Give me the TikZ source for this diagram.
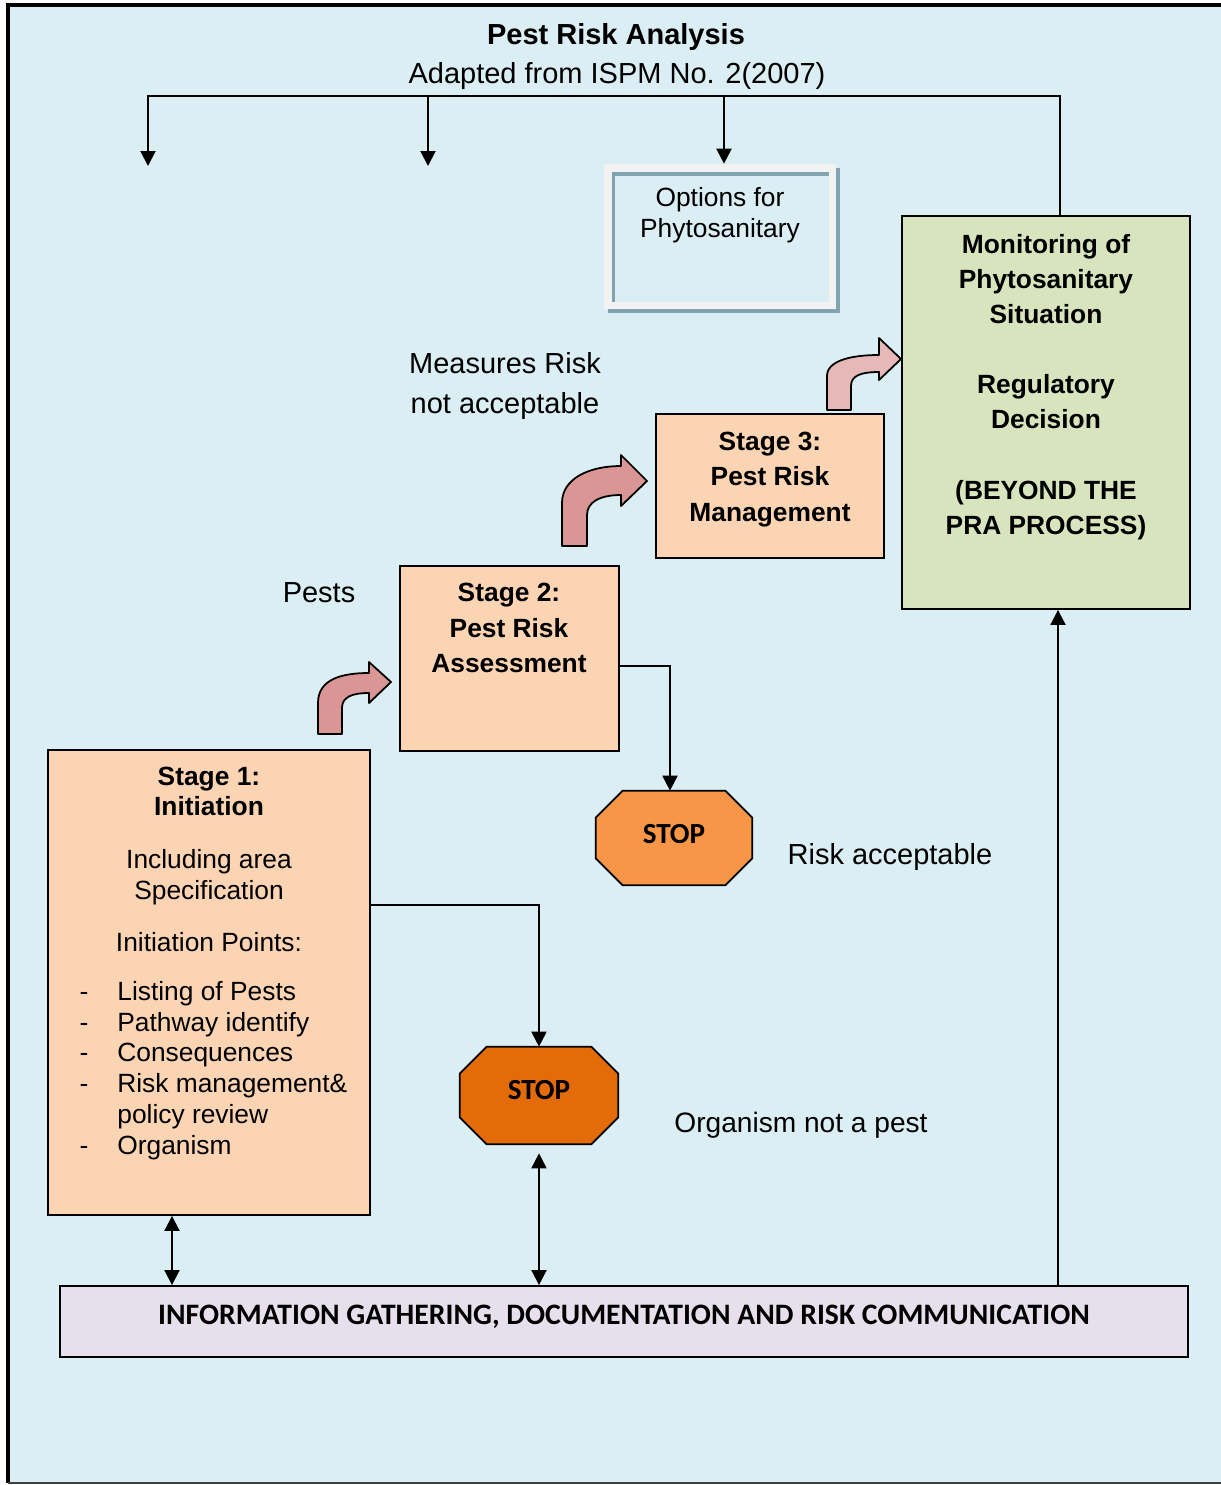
\documentclass[tikz,border=0pt]{standalone}
\usepackage{fontspec}
\setmainfont{Liberation Sans}
\newfontfamily\calib{Carlito}
\usetikzlibrary{arrows.meta,calc}
\definecolor{bgc}{HTML}{DAEEF3}
\definecolor{peach}{HTML}{FBD4B4}
\definecolor{greenc}{HTML}{D7E4BD}
\definecolor{lavc}{HTML}{E5E0EC}
\definecolor{stopa}{HTML}{F79646}
\definecolor{stopb}{HTML}{E36C09}
\definecolor{pinka}{HTML}{D99694}
\definecolor{pinkb}{HTML}{E6B9B8}
\definecolor{shc}{HTML}{7FA4B0}
\definecolor{optc}{HTML}{F2F2F2}
\newcommand\octpath[3]{%
 \draw[line width=1pt, fill=#3] ([xshift=#2]#1.north west) -- ([xshift=-#2]#1.north east) -- ([yshift=-#2]#1.north east) -- ([yshift=#2]#1.south east) -- ([xshift=-#2]#1.south east) -- ([xshift=#2]#1.south west) -- ([yshift=#2]#1.south west) -- ([yshift=-#2]#1.north west) -- cycle;}
\begin{document}
\begin{tikzpicture}[x=0.02cm,y=-0.02cm,
 box/.style={draw=black, line width=1.1pt, inner sep=0pt},
 conn/.style={line width=1.1pt},
 arr/.style={conn, -{Triangle[length=0.3cm,width=0.3cm]}},
 darr/.style={conn, {Triangle[length=0.3cm,width=0.3cm]}-{Triangle[length=0.3cm,width=0.3cm]}},
 lbl/.style={font=\fontsize{16.5}{20}\selectfont, inner sep=0pt, text height=11.8pt, text depth=0pt},
 lbl15/.style={font=\fontsize{15}{18}\selectfont, inner sep=0pt, text height=10.7pt, text depth=0pt},
 lblm/.style={font=\fontsize{16.5}{22.5}\selectfont, inner sep=0pt, align=center},
 bt/.style={font=\fontsize{15}{20}\selectfont\bfseries, align=center, inner sep=0pt},
 bt1/.style={font=\fontsize{15}{17}\selectfont\bfseries, align=center, inner sep=0pt},
 rt/.style={font=\fontsize{15}{17.6}\selectfont, align=center, inner sep=0pt},
 li/.style={font=\fontsize{15}{17.5}\selectfont, inner sep=0pt, anchor=base west},
 dsh/.style={font=\fontsize{15}{17.5}\selectfont, inner sep=0pt, anchor=base},
 stopt/.style={font=\calib\bfseries\fontsize{16.6}{20}\selectfont, inner sep=0pt},
 bart/.style={font=\calib\bfseries\fontsize{16.9}{20}\selectfont, inner sep=0pt},
 bent/.style={draw=black, line width=1pt, line join=round}
]
\useasboundingbox (0,0) rectangle (1221,1485);
\fill[white] (0,0) rectangle (1221,1485);
\fill[bgc] (8,5) rectangle (1221,1483);
\draw[line width=2.2pt] (8,1483) -- (8,5) -- (1221,5);
\draw[line width=0.8pt, black!75] (8,1483) -- (1221,1483);

% title
\node[lbl, font=\fontsize{16.5}{20}\selectfont\bfseries] (title) at (616,34) {Pest Risk Analysis};
\node[lbl] (subtitle) at (617,73) {Adapted from ISPM No. 2(2007)};

% options box
\fill[shc] (608,168) rectangle (840,313);
\node[fill=optc, minimum width=4.64cm, minimum height=2.9cm, inner sep=0pt] (opt) at (720,236.5) {};
\fill[shc] (612,172) rectangle (829,302);
\fill[bgc] (615,176) rectangle (829,302);
\node[rt] (optt) at (720,215) {Options for\\Phytosanitary};

% monitoring
\node[box, fill=greenc, minimum width=5.76cm, minimum height=7.86cm] (mon) at (1046,412.5) {};
\node[bt] (mont) at (1046,387) {Monitoring of\\Phytosanitary\\Situation\\[20pt]Regulatory\\Decision\\[20pt](BEYOND THE\\PRA PROCESS)};

% stage 3
\node[box, fill=peach, minimum width=4.56cm, minimum height=2.88cm] (st3) at (770,486) {};
\node[bt] (st3t) at (770,479.5) {Stage 3:\\Pest Risk\\Management};

% stage 2
\node[box, fill=peach, minimum width=4.38cm, minimum height=3.7cm] (st2) at (509.5,658.5) {};
\node[bt] (st2t) at (509,628) {Stage 2:\\Pest Risk\\Assessment};

% stage 1
\node[box, fill=peach, minimum width=6.44cm, minimum height=9.3cm] (st1) at (209,982.5) {};
\node[bt1] (st1h) at (209,791) {Stage 1:\\Initiation};
\node[rt] (st1a) at (209,877) {Including area\\Specification};
\node[lbl15] (st1p) at (209,942) {Initiation Points:};
\foreach \t/\yy [count=\i] in {Listing of Pests/1000.5, Pathway identify/1031.3, Consequences/1061.5, Risk management\&/1092.3, policy review/1123.1, Organism/1154.3}
  \node[li] (li\i) at (117,\yy) {\t};
\foreach \yy [count=\i] in {1000.5,1031.3,1061.5,1092.3,1154.3}
  \node[dsh] (dash\i) at (84,\yy) {-};

% bent arrows
\path[bent, fill=pinka] (318,734) -- (318,703) .. controls (318,680) and (340,673) .. (369,673) -- (369,662) -- (391,682) -- (369,703) -- (369,693) .. controls (352,693) and (342,697) .. (342,708) -- (342,734) -- cycle;
\path[bent, fill=pinka] (562,546) -- (562,503) .. controls (562,478) and (590,466) .. (621,466) -- (621,455) -- (647,481) -- (621,506) -- (621,495) .. controls (600,495) and (587,502) .. (587,515) -- (587,546) -- cycle;
\path[bent, fill=pinkb] (827,410) -- (827,376) .. controls (827,361) and (850,355) .. (879,355) -- (879,338) -- (901,359) -- (879,380) -- (879,372) .. controls (860,372) and (851,376) .. (851,386) -- (851,410) -- cycle;

% stops
\node[minimum width=3.12cm, minimum height=1.88cm, inner sep=0pt] (stop1) at (674,838) {};
\octpath{stop1}{0.54cm}{stopa}
\node[stopt] (stop1l) at (674,834) {STOP};
\node[minimum width=3.16cm, minimum height=1.94cm, inner sep=0pt] (stop2) at (539,1095.5) {};
\octpath{stop2}{0.54cm}{stopb}
\node[stopt] (stop2l) at (539,1090) {STOP};

% bottom bar
\node[box, fill=lavc, minimum width=22.56cm, minimum height=1.42cm] (bar) at (624,1321.5) {};
\node[bart] (bart) at (624,1317) {INFORMATION GATHERING, DOCUMENTATION AND RISK COMMUNICATION};

% labels
\node[lblm] (meas) at (505,386) {Measures Risk\\not acceptable};
\node[lbl] (pests) at (319,592) {Pests};
\node[lbl] (racc) at (890,854) {Risk acceptable};
\node[lbl, font=\fontsize{16}{20}\selectfont] (onp) at (801,1122) {Organism not a pest};

% connectors
\coordinate (tr) at (1060,96);
\coordinate (tl) at (148,96);
\coordinate (e1) at (148,166);
\coordinate (e2) at (428,166);
\coordinate (e3) at (724,0);
\draw[arr] (mon.north -| tr) -- (tr) -- (tl) -- (e1);
\draw[arr] (tl -| e2) -- (e2);
\draw[arr] (tl -| e3) -- (opt.north -| e3);

\coordinate (s2out) at (670,666);
\draw[arr] (st2.east |- s2out) -- (s2out) -- (stop1.north -| s2out);
\coordinate (s1out) at (370,905);
\draw[arr] (st1.east |- s1out) -| (stop2.north);
\draw[darr, shorten <=0.18cm] (stop2.south) -- (stop2.south |- bar.north);
\coordinate (s1b) at (172,1215);
\draw[darr] (st1.south -| s1b) -- (bar.north -| s1b);
\coordinate (mx) at (1058,609);
\draw[arr] (bar.north -| mx) -- (mon.south -| mx);
\end{tikzpicture}
\end{document}
